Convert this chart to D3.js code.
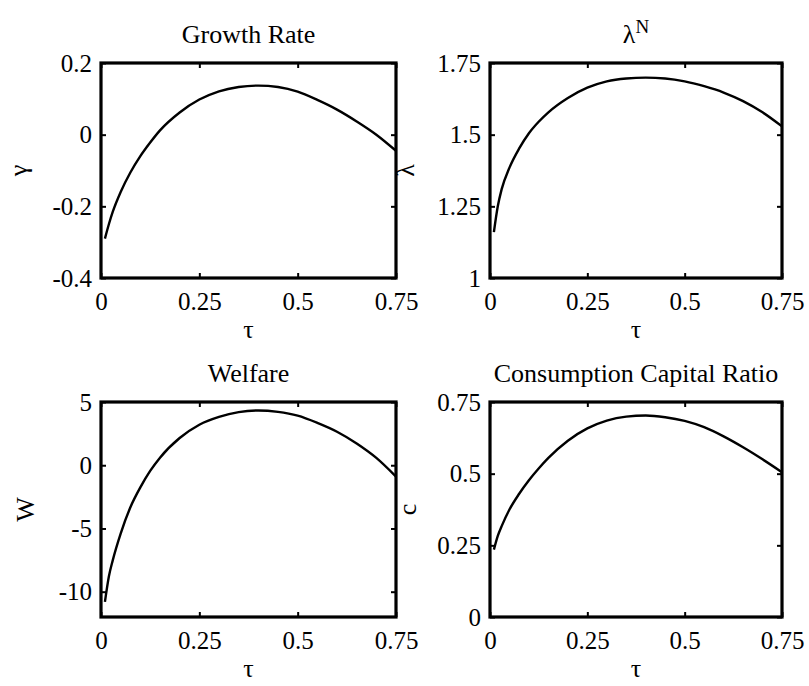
<!DOCTYPE html>
<html>
<head>
<meta charset="utf-8">
<script src="https://cdn.jsdelivr.net/npm/d3@7"></script>
<style>
  html, body { margin: 0; padding: 0; background: #fff; }
  svg { display: block; }
  text { font-family: "Liberation Serif", "Times New Roman", serif; fill: #000; }
</style>
</head>
<body>
<svg id="fig" width="809" height="686"></svg>
<script>
// Tax rate grid shared by all four panels
const tau = [0.01, 0.02, 0.03, 0.05, 0.075, 0.10, 0.125, 0.15, 0.20, 0.25,
             0.30, 0.35, 0.40, 0.45, 0.50, 0.55, 0.60, 0.65, 0.70, 0.75];

// Growth rate gamma
const growth = [-0.29, -0.25, -0.215, -0.16, -0.105, -0.06, -0.022, 0.012, 0.062, 0.098,
                0.121, 0.133, 0.137, 0.133, 0.12, 0.097, 0.07, 0.037, 0.0, -0.045];

// lambda^N
const lambdaN = [1.16, 1.25, 1.31, 1.385, 1.452, 1.505, 1.545, 1.578, 1.628, 1.664,
                 1.686, 1.696, 1.699, 1.696, 1.686, 1.669, 1.647, 1.617, 1.578, 1.529];

// Welfare W
const welfare = [-10.8, -8.8, -7.5, -5.4, -3.3, -1.75, -0.45, 0.6, 2.15, 3.2,
                 3.82, 4.2, 4.33, 4.22, 3.92, 3.35, 2.65, 1.72, 0.58, -0.9];

// Consumption capital ratio c
const ccRatio = [0.235, 0.283, 0.317, 0.375, 0.43, 0.477, 0.518, 0.555, 0.615, 0.658,
                 0.685, 0.699, 0.703, 0.697, 0.684, 0.662, 0.63, 0.592, 0.55, 0.505];

// Tick labels
const xTicks = [0, 0.25, 0.5, 0.75];
const xTickLabels = ["0", "0.25", "0.5", "0.75"];
const growthTicks = [-0.4, -0.2, 0, 0.2];
const growthTickLabels = ["-0.4", "-0.2", "0", "0.2"];
const lambdaTicks = [1, 1.25, 1.5, 1.75];
const lambdaTickLabels = ["1", "1.25", "1.5", "1.75"];
const welfareTicks = [-10, -5, 0, 5];
const welfareTickLabels = ["-10", "-5", "0", "5"];
const ccTicks = [0, 0.25, 0.5, 0.75];
const ccTickLabels = ["0", "0.25", "0.5", "0.75"];

const FONT = '"Liberation Serif", "Times New Roman", serif';
const svg = d3.select("#fig");

const panels = [
  { title: "Growth Rate", ylabel: "\u03b3", values: growth, ydom: [-0.4, 0.2],
    yt: growthTicks, ytl: growthTickLabels,
    box: [101, 396, 63, 278], ylabX: 27 },
  { title: "\u03bb", sup: "N", ylabel: "\u03bb", values: lambdaN, ydom: [1, 1.75],
    yt: lambdaTicks, ytl: lambdaTickLabels,
    box: [490, 782, 63, 278], ylabX: 414 },
  { title: "Welfare", ylabel: "W", values: welfare, ydom: [-12, 5],
    yt: welfareTicks, ytl: welfareTickLabels,
    box: [101, 396, 402, 617], ylabX: 34 },
  { title: "Consumption Capital Ratio", ylabel: "c", values: ccRatio, ydom: [0, 0.75],
    yt: ccTicks, ytl: ccTickLabels,
    box: [490, 782, 402, 617], ylabX: 416 }
];

panels.forEach(p => {
  const [x0, x1, y0, y1] = p.box;
  const x = d3.scaleLinear().domain([0, 0.75]).range([x0, x1]);
  const y = d3.scaleLinear().domain(p.ydom).range([y1, y0]);
  const g = svg.append("g");

  // bottom axis with labels, ticks pointing inward
  const bottom = g.append("g").attr("transform", `translate(0,${y1})`)
    .call(d3.axisBottom(x).tickValues(xTicks)
      .tickFormat((d, i) => xTickLabels[i]).tickSize(-5).tickPadding(14));
  // top axis, ticks only
  const top = g.append("g").attr("transform", `translate(0,${y0})`)
    .call(d3.axisTop(x).tickValues(xTicks).tickFormat("").tickSize(-5));
  // left axis with labels
  const left = g.append("g").attr("transform", `translate(${x0},0)`)
    .call(d3.axisLeft(y).tickValues(p.yt)
      .tickFormat((d, i) => p.ytl[i]).tickSize(-5).tickPadding(9));
  // right axis, ticks only
  const right = g.append("g").attr("transform", `translate(${x1},0)`)
    .call(d3.axisRight(y).tickValues(p.yt).tickFormat("").tickSize(-5));

  [bottom, top, left, right].forEach(a => {
    a.attr("font-family", FONT).attr("font-size", 25);
    a.select(".domain").remove();
    a.selectAll(".tick line").attr("stroke", "#000").attr("stroke-width", 2);
    a.selectAll(".tick text")
      .attr("font-family", FONT).attr("font-size", 25).attr("fill", "#000");
  });

  // curve
  const line = d3.line()
    .x((d, i) => x(tau[i]))
    .y(d => y(d))
    .curve(d3.curveMonotoneX);
  g.append("path").datum(p.values)
    .attr("d", line)
    .attr("fill", "none")
    .attr("stroke", "#000")
    .attr("stroke-width", 2.4)
    .attr("stroke-linejoin", "round");

  // frame
  g.append("rect")
    .attr("x", x0).attr("y", y0)
    .attr("width", x1 - x0).attr("height", y1 - y0)
    .attr("fill", "none").attr("stroke", "#000").attr("stroke-width", 3.2);

  // title
  const t = g.append("text")
    .attr("x", (x0 + x1) / 2).attr("y", y0 - 20)
    .attr("text-anchor", "middle")
    .attr("font-size", 26)
    .text(p.title);
  if (p.sup) {
    t.append("tspan").attr("dy", -10).attr("font-size", 19).text(p.sup);
  }

  // x label
  g.append("text")
    .attr("x", (x0 + x1) / 2).attr("y", y1 + 60)
    .attr("text-anchor", "middle")
    .attr("font-size", 26)
    .text("\u03c4");

  // y label
  g.append("text")
    .attr("transform", `translate(${p.ylabX},${(y0 + y1) / 2}) rotate(-90)`)
    .attr("text-anchor", "middle")
    .attr("font-size", 26)
    .text(p.ylabel);
});
</script>
</body>
</html>
